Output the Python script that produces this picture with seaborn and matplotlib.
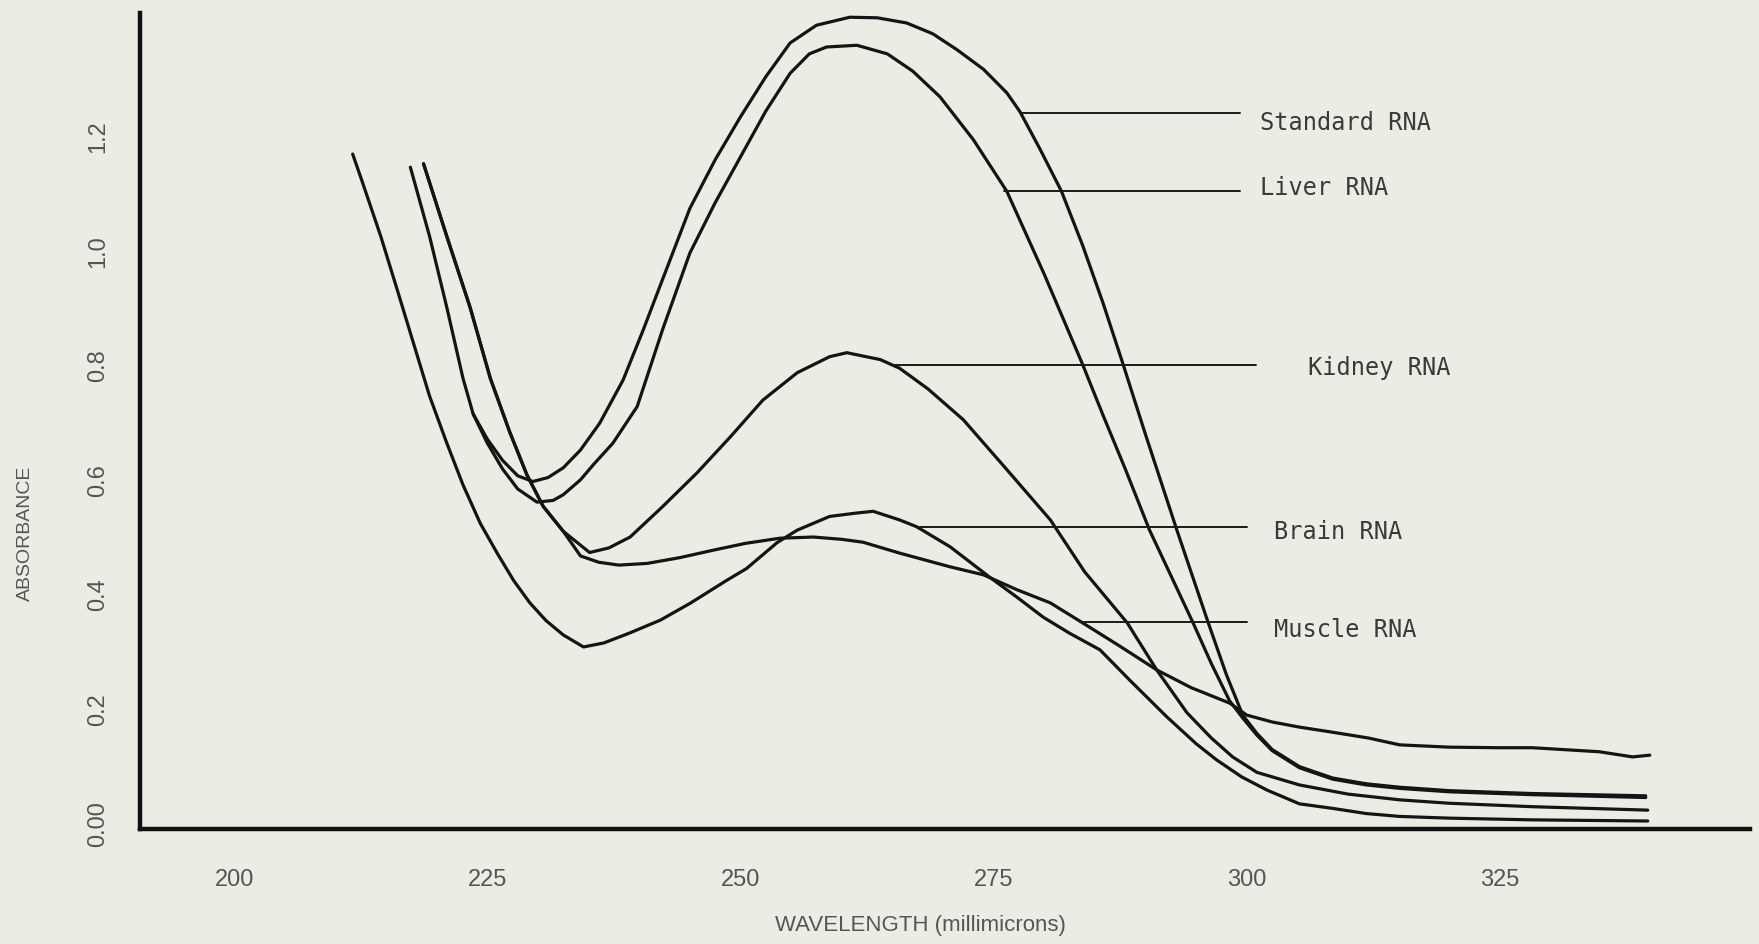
import matplotlib
matplotlib.use("Agg")
import matplotlib.pyplot as plt
import numpy as np
import pandas as pd
import seaborn as sns

""" UV absorbance spectra of RNA preparations """

std_nm = [223.6, 225.0, 226.5, 228.0, 229.5, 231.0, 232.5, 234.2, 236.1, 238.4, 240.4, 242.5, 245.0,
          247.5, 250.0, 252.5, 254.9, 257.5, 260.8, 263.5, 266.4, 269.0, 271.4, 274.0, 276.3, 277.6,
          279.6, 281.7, 283.8, 285.8, 287.8, 290.0, 293.1, 296.2, 298.0, 299.6, 301.0, 302.5, 305.2,
          308.5, 311.8, 315.1, 320.0, 328.2, 339.4]
std_abs = [0.716, 0.672, 0.635, 0.608, 0.598, 0.605, 0.622, 0.653, 0.700, 0.775, 0.863, 0.960, 1.075,
           1.160, 1.235, 1.305, 1.364, 1.395, 1.409, 1.408, 1.399, 1.380, 1.352, 1.318, 1.277, 1.244,
           1.178, 1.105, 1.010, 0.910, 0.802, 0.680, 0.513, 0.351, 0.260, 0.190, 0.158, 0.130, 0.100,
           0.080, 0.070, 0.064, 0.058, 0.053, 0.049]

liver_nm = [217.4, 219.3, 221.0, 222.6, 223.6, 225.0, 226.5, 228.0, 229.9, 231.5, 232.5, 234.2, 235.5,
            237.4, 239.8, 242.3, 245.0, 247.5, 250.0, 252.5, 254.9, 256.8, 258.5, 261.5, 264.5, 267.0,
            269.7, 273.0, 276.3, 280.0, 283.8, 285.8, 288.0, 290.4, 294.7, 296.5, 298.3, 299.6, 301.0,
            302.5, 305.2, 308.5, 311.8, 315.1, 320.0, 328.2, 339.4]
liver_abs = [1.147, 1.026, 0.902, 0.778, 0.716, 0.665, 0.620, 0.585, 0.562, 0.565, 0.575, 0.601, 0.628,
             0.665, 0.729, 0.863, 0.997, 1.085, 1.165, 1.245, 1.311, 1.345, 1.357, 1.360, 1.345, 1.315,
             1.270, 1.195, 1.105, 0.960, 0.802, 0.714, 0.620, 0.513, 0.351, 0.280, 0.215, 0.185, 0.155,
             0.128, 0.098, 0.078, 0.068, 0.062, 0.056, 0.051, 0.046]

kidney_nm = [218.7, 221.0, 223.3, 225.3, 227.2, 228.9, 230.5, 232.5, 235.1, 237.0, 239.1, 242.3, 245.7,
             249.0, 252.2, 255.6, 258.8, 260.5, 263.8, 265.7, 268.5, 272.0, 276.0, 280.6, 284.0, 288.2,
             291.1, 294.1, 296.5, 298.6, 301.0, 305.2, 310.0, 315.1, 320.0, 328.2, 339.6]
kidney_abs = [1.153, 1.026, 0.902, 0.778, 0.685, 0.610, 0.555, 0.511, 0.474, 0.482, 0.501, 0.554, 0.613,
              0.676, 0.740, 0.788, 0.816, 0.823, 0.811, 0.796, 0.760, 0.706, 0.625, 0.531, 0.440, 0.351,
              0.269, 0.194, 0.150, 0.117, 0.090, 0.068, 0.052, 0.042, 0.036, 0.030, 0.024]

brain_nm = [211.7, 212.7, 214.5, 216.1, 217.7, 219.3, 221.0, 222.6, 224.3, 226.0, 227.6, 229.2, 230.8,
            232.5, 234.5, 236.5, 239.0, 242.1, 245.0, 248.7, 250.6, 253.6, 255.6, 258.8, 261.5, 263.1,
            265.7, 267.4, 270.7, 274.6, 277.3, 279.9, 282.5, 285.5, 288.5, 292.1, 295.0, 297.0, 299.5,
            302.0, 305.2, 308.5, 311.8, 315.1, 320.0, 328.2, 339.6]
brain_abs = [1.170, 1.119, 1.025, 0.933, 0.840, 0.747, 0.665, 0.592, 0.525, 0.472, 0.425, 0.386, 0.355,
             0.330, 0.309, 0.316, 0.333, 0.356, 0.385, 0.426, 0.446, 0.491, 0.513, 0.537, 0.543, 0.546,
             0.531, 0.519, 0.484, 0.431, 0.396, 0.361, 0.333, 0.304, 0.250, 0.187, 0.140, 0.112, 0.082,
             0.059, 0.035, 0.027, 0.018, 0.013, 0.010, 0.007, 0.005]

muscle_nm = [218.7, 221.0, 223.3, 225.3, 227.2, 228.9, 230.5, 232.5, 234.2, 236.0, 238.0, 240.8, 244.0,
             247.3, 250.5, 253.9, 257.2, 260.0, 262.1, 265.7, 270.7, 274.0, 277.3, 280.6, 283.8, 287.5,
             291.1, 294.5, 298.3, 300.0, 302.5, 305.2, 308.5, 312.0, 315.1, 320.0, 325.0, 328.2, 334.8,
             338.1, 339.8]
muscle_abs = [1.153, 1.026, 0.902, 0.778, 0.685, 0.610, 0.555, 0.511, 0.468, 0.457, 0.452, 0.455, 0.465,
              0.478, 0.490, 0.499, 0.501, 0.497, 0.492, 0.473, 0.449, 0.435, 0.409, 0.386, 0.351, 0.310,
              0.269, 0.238, 0.211, 0.190, 0.178, 0.169, 0.160, 0.150, 0.138, 0.134, 0.133, 0.133, 0.126,
              0.117, 0.120]

# labels and their leader lines
label_names = ["Standard RNA", "Liver RNA", "Kidney RNA", "Brain RNA", "Muscle RNA"]
leader_from = [277.7, 276.0, 264.9, 267.7, 283.5]
leader_to = [299.3, 299.3, 300.9, 300.0, 300.0]
leader_y = [1.241, 1.106, 0.802, 0.518, 0.352]
label_x = [301.3, 301.3, 306.0, 302.7, 302.7]
label_y = [1.224, 1.110, 0.796, 0.510, 0.338]

x_ticks = [200, 225, 250, 275, 300, 325]
y_ticks = [0.0, 0.2, 0.4, 0.6, 0.8, 1.0, 1.2]
y_tick_labels = ["0.00", "0.2", "0.4", "0.6", "0.8", "1.0", "1.2"]

frames = []
for name, nm, ab in [("Standard RNA", std_nm, std_abs), ("Liver RNA", liver_nm, liver_abs),
                     ("Kidney RNA", kidney_nm, kidney_abs), ("Brain RNA", brain_nm, brain_abs),
                     ("Muscle RNA", muscle_nm, muscle_abs)]:
    frames.append(pd.DataFrame({"sample": name, "nm": nm, "absorbance": ab}))
df = pd.concat(frames, ignore_index=True)

sns.set_style("white")
plt.rcParams["font.family"] = ["Liberation Sans", "DejaVu Sans"]

paper = "#ecebe4"
fig = plt.figure(figsize=(17.59, 9.44), dpi=100, facecolor=paper)
ax = fig.add_axes([0.0796, 0.1218, 0.9153, 0.8642])
ax.set_facecolor(paper)

sns.lineplot(data=df, x="nm", y="absorbance", units="sample", estimator=None,
             color="#141414", linewidth=2.3, sort=False, ax=ax,
             solid_joinstyle="round", solid_capstyle="round")

for i in range(len(label_names)):
    ax.plot([leader_from[i], leader_to[i]], [leader_y[i], leader_y[i]], color="#1a1a1a", linewidth=1.4)
    ax.text(label_x[i], label_y[i], label_names[i], family="DejaVu Sans Mono", fontsize=17,
            color="#3a3a3a", va="center", ha="left")

ax.set_xlim(190.7, 349.7)
ax.set_ylim(-0.009, 1.416)
ax.set_xticks(x_ticks)
ax.set_xticklabels([str(t) for t in x_ticks])
ax.set_yticks(y_ticks)
ax.set_yticklabels(y_tick_labels, rotation=90, va="center")

sns.despine(ax=ax)
for s in ["left", "bottom"]:
    ax.spines[s].set_linewidth(3.2)
    ax.spines[s].set_color("#111111")

ax.tick_params(axis="x", direction="out", length=9, width=1.5, color="#222222", pad=20,
               labelsize=17, labelcolor="#555555")
ax.tick_params(axis="y", direction="out", length=8, width=1.5, color="#222222", pad=14,
               labelsize=17, labelcolor="#555555")

ax.set_xlabel("WAVELENGTH (millimicrons)", fontsize=16, color="#555555")
ax.set_ylabel("ABSORBANCE", fontsize=14, color="#555555")
ax.xaxis.set_label_coords(0.4845, -0.106)
ax.yaxis.set_label_coords(-0.066, 0.363)

fig.savefig("out.png", dpi=100, facecolor=paper)
